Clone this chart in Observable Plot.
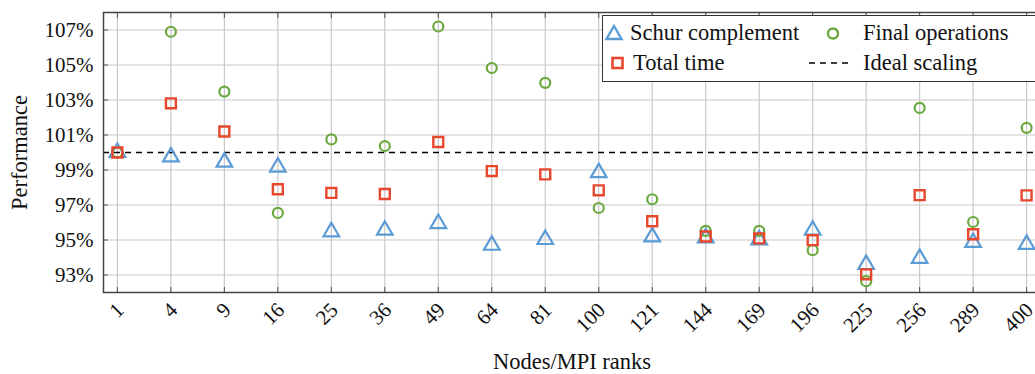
<!DOCTYPE html>
<html><head><meta charset="utf-8">
<script src="https://cdn.jsdelivr.net/npm/d3@7"></script>
<script src="https://cdn.jsdelivr.net/npm/@observablehq/plot@0.6"></script>
<style>
html,body{margin:0;padding:0;background:#fff;overflow:hidden}
#wrap{position:relative;width:1035px;height:374px;overflow:hidden;font-family:"Liberation Serif",serif}
#wrap svg{overflow:hidden}
#legend{position:absolute;left:602px;top:15px;width:450px;height:67px;border:1.3px solid #333;background:#fff;box-sizing:border-box}
.sym{position:absolute}
.lbl{position:absolute;font-size:22.5px;line-height:26px;color:#111;white-space:nowrap}
</style></head><body><div id="wrap"></div>
<script>
const ranks = ["1","4","9","16","25","36","49","64","81","100","121","144","169","196","225","256","289","400"];
const schur = [100.0, 99.75, 99.45, 99.17, 95.47, 95.56, 95.94, 94.70, 95.03, 98.85, 95.18, 95.12, 95.00, 95.56, 93.60, 93.95, 94.86, 94.75];
const total = [100.0, 102.81, 101.20, 97.90, 97.69, 97.63, 100.60, 98.94, 98.75, 97.84, 96.07, 95.20, 95.09, 94.99, 93.04, 97.56, 95.33, 97.55];
const finalOps = [100.0, 106.90, 103.48, 96.55, 100.75, 100.37, 107.20, 104.83, 103.98, 96.83, 97.33, 95.52, 95.52, 94.42, 92.65, 102.55, 96.03, 101.41];
const yTicks = [93, 95, 97, 99, 101, 103, 105, 107];
const ideal = [100];
const seriesNames = ["Schur complement", "Total time", "Final operations", "Ideal scaling"];
const colors = {schur:"#5B9BD5", total:"#E8472E", final:"#6BA93F"};

const rows = (vals) => ranks.map((r, i) => ({rank: r, value: vals[i]}));

const chart = Plot.plot({
  width: 1035, height: 374,
  marginLeft: 103, marginRight: -5, marginTop: 12, marginBottom: 82,
  style: {fontFamily: "'Liberation Serif', serif", fontSize: "21px", color: "#111", background: "white"},
  x: {type: "point", domain: ranks, padding: 0.26, round: false, label: null},
  y: {domain: [92, 108], label: null},
  marks: [
    Plot.gridX({stroke: "#c8c8c8", strokeOpacity: 1, strokeWidth: 1.2}),
    Plot.gridY(yTicks, {stroke: "#c8c8c8", strokeOpacity: 1, strokeWidth: 1.2}),
    Plot.axisY(yTicks, {tickSize: -5, tickFormat: () => "", stroke: "#555", label: null}),
    Plot.axisX({anchor: "top", tickSize: -5, tickFormat: () => "", stroke: "#555", label: null}),
    Plot.axisX({anchor: "bottom", tickSize: -5, tickFormat: () => "", stroke: "#555", label: null}),
    Plot.axisY(yTicks, {tickSize: 0, tickPadding: 10, tickFormat: d => d + "%", label: null}),
    Plot.axisX({tickSize: 0, tickPadding: 14, dx: 3, tickRotate: -45, label: null}),
    Plot.axisY(yTicks, {tickSize: 0, tickFormat: () => "", label: "Performance", labelAnchor: "center", labelOffset: 92, labelArrow: "none", fontSize: 22.5}),
    Plot.axisX({tickSize: 0, tickFormat: () => "", label: "Nodes/MPI ranks", labelAnchor: "center", labelOffset: 76, labelArrow: "none", fontSize: 22.5}),
    Plot.ruleY(ideal, {stroke: "#000", strokeDasharray: "6,5", strokeWidth: 1.3}),
    Plot.dot(rows(schur), {x: "rank", y: "value", symbol: "triangle", r: 5.8, stroke: colors.schur, strokeWidth: 2.2, fill: "none"}),
    Plot.dot(rows(finalOps), {x: "rank", y: "value", symbol: "circle", r: 5, stroke: colors.final, strokeWidth: 2.2, fill: "none"}),
    Plot.dot(rows(total), {x: "rank", y: "value", symbol: "square", r: 5.6, stroke: colors.total, strokeWidth: 2.4, fill: "none"}),
    Plot.frame({stroke: "#444", strokeWidth: 1.5})
  ]
});

const wrap = document.getElementById("wrap");
wrap.appendChild(chart);

const legend = document.createElement("div");
legend.id = "legend";
legend.innerHTML = `
  <svg class="sym" style="left:1px;top:8px" width="20" height="18"><path d="M10,2 L17.5,15 L2.5,15 Z" fill="none" stroke="${colors.schur}" stroke-width="2.4"/></svg>
  <span class="lbl" style="left:27px;top:4px">${seriesNames[0]}</span>
  <svg class="sym" style="left:220px;top:9px" width="20" height="18"><circle cx="10" cy="8.5" r="5" fill="none" stroke="${colors.final}" stroke-width="2.4"/></svg>
  <span class="lbl" style="left:260px;top:4px">${seriesNames[2]}</span>
  <svg class="sym" style="left:5px;top:38px" width="20" height="20"><rect x="4.5" y="4" width="10" height="10" fill="none" stroke="${colors.total}" stroke-width="2.6"/></svg>
  <span class="lbl" style="left:30px;top:34px">${seriesNames[1]}</span>
  <svg class="sym" style="left:205px;top:38px" width="46" height="20"><line x1="1" y1="9" x2="45" y2="9" stroke="#000" stroke-width="1.3" stroke-dasharray="6,5"/></svg>
  <span class="lbl" style="left:260px;top:34px">${seriesNames[3]}</span>`;
wrap.appendChild(legend);
</script>
</body></html>
